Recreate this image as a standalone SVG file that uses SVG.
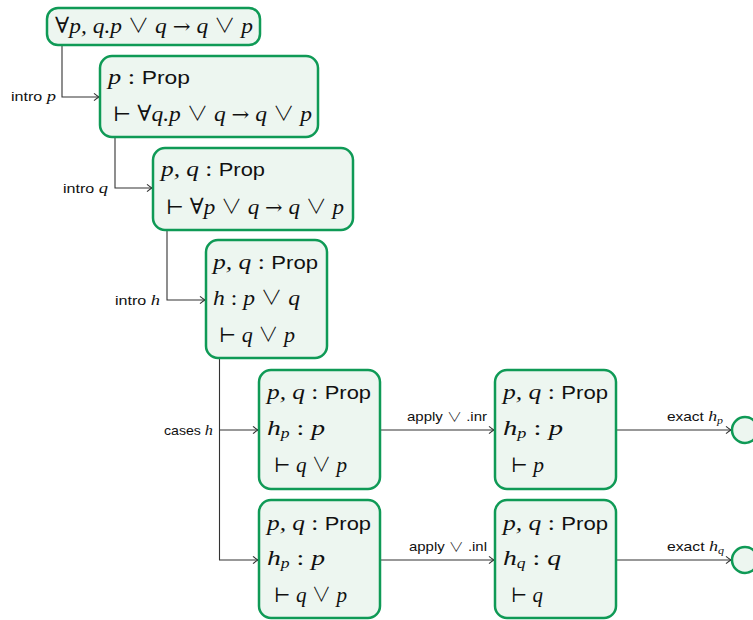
<svg xmlns="http://www.w3.org/2000/svg" width="753" height="620" viewBox="0 0 753 620">
<style>
.box{fill:#edf6f0;stroke:#0f9a56;stroke-width:2.5}
.m{font-family:"Liberation Serif","DejaVu Serif",serif;font-style:italic;font-size:22px;fill:#111}
.u{font-style:normal;font-family:"Liberation Serif","DejaVu Serif",serif}
.a{font-style:normal;font-family:"DejaVu Serif",serif;font-size:20px}
.v{font-style:normal;font-family:"Noto Sans CJK JP","DejaVu Sans",sans-serif;font-weight:300;font-size:20px}
.vl{font-style:normal;font-family:"Noto Sans CJK JP","DejaVu Sans",sans-serif;font-weight:300;font-size:13px}
.c{font-style:normal}
.t{font-family:"Liberation Sans","DejaVu Sans",sans-serif;font-style:normal;font-size:19px}
.l{font-family:"Liberation Sans","DejaVu Sans",sans-serif;font-size:13px;fill:#111}
.li{font-family:"Liberation Serif",serif;font-style:italic;font-size:15px}
.sub{font-size:14px}
.lsub{font-size:10px}
.wire{fill:none;stroke:#333;stroke-width:1.1;marker-end:url(#arr)}
</style>
<defs>
<marker id="arr" markerUnits="userSpaceOnUse" viewBox="-6 -5 7 10" refX="0" refY="0" markerWidth="7" markerHeight="10" orient="auto">
<path d="M-5,-3.6 Q-1.5,-0.8 0,0 Q-1.5,0.8 -5,3.6" fill="none" stroke="#333" stroke-width="1.1"/>
</marker>
</defs>
<g id="connectors">
<path class="wire" d="M62,45 V97 H99"/>
<path class="wire" d="M115,137 V188 H152"/>
<path class="wire" d="M167,230 V300 H205"/>
<path class="wire" d="M219.5,358 V560 H258"/>
<path class="wire" d="M219.5,430 H258"/>
<path class="wire" d="M380,430 H494"/>
<path class="wire" d="M380,560 H494"/>
<path class="wire" d="M616,430 H731"/>
<path class="wire" d="M616,560 H731"/>
<text class="l" x="11" y="101" textLength="45" lengthAdjust="spacingAndGlyphs">intro <tspan class="li">p</tspan></text>
<text class="l" x="63" y="193" textLength="45" lengthAdjust="spacingAndGlyphs">intro <tspan class="li">q</tspan></text>
<text class="l" x="115" y="305" textLength="45" lengthAdjust="spacingAndGlyphs">intro <tspan class="li">h</tspan></text>
<text class="l" x="164" y="435" textLength="49" lengthAdjust="spacingAndGlyphs">cases <tspan class="li">h</tspan></text>
<text class="l" x="407" y="421" textLength="80" lengthAdjust="spacingAndGlyphs">apply <tspan class="vl">∨</tspan> .inr</text>
<text class="l" x="409" y="551" textLength="78" lengthAdjust="spacingAndGlyphs">apply <tspan class="vl">∨</tspan> .inl</text>
<text class="l" x="667" y="421" textLength="56" lengthAdjust="spacingAndGlyphs">exact <tspan class="li">h</tspan><tspan class="li lsub" dy="3">p</tspan></text>
<text class="l" x="667" y="551" textLength="57" lengthAdjust="spacingAndGlyphs">exact <tspan class="li">h</tspan><tspan class="li lsub" dy="3">q</tspan></text>
</g>
<g id="n1">
<rect class="box" x="47" y="8" width="213" height="37" rx="11"/>
<text class="m" x="55" y="33" textLength="198" lengthAdjust="spacingAndGlyphs"><tspan class="u">∀</tspan>p, q.p <tspan class="v">∨</tspan> q <tspan class="a">→</tspan> q <tspan class="v">∨</tspan> p</text>
</g>
<g id="n2">
<rect class="box" x="100" y="56" width="218" height="81" rx="12"/>
<text class="m" x="108" y="84" textLength="82" lengthAdjust="spacingAndGlyphs">p <tspan class="c">:</tspan> <tspan class="t">Prop</tspan></text>
<text class="m" x="113" y="121" textLength="199" lengthAdjust="spacingAndGlyphs"><tspan class="a">⊢</tspan> <tspan class="u">∀</tspan>q.p <tspan class="v">∨</tspan> q <tspan class="a">→</tspan> q <tspan class="v">∨</tspan> p</text>
</g>
<g id="n3">
<rect class="box" x="153" y="148" width="200" height="82" rx="12"/>
<text class="m" x="161" y="176" textLength="104" lengthAdjust="spacingAndGlyphs">p, q <tspan class="c">:</tspan> <tspan class="t">Prop</tspan></text>
<text class="m" x="166" y="214" textLength="178" lengthAdjust="spacingAndGlyphs"><tspan class="a">⊢</tspan> <tspan class="u">∀</tspan>p <tspan class="v">∨</tspan> q <tspan class="a">→</tspan> q <tspan class="v">∨</tspan> p</text>
</g>
<g id="n4">
<rect class="box" x="206" y="240" width="121" height="118" rx="12"/>
<text class="m" x="213" y="269" textLength="105" lengthAdjust="spacingAndGlyphs">p, q <tspan class="c">:</tspan> <tspan class="t">Prop</tspan></text>
<text class="m" x="213" y="305" textLength="87" lengthAdjust="spacingAndGlyphs">h <tspan class="c">:</tspan> p <tspan class="v">∨</tspan> q</text>
<text class="m" x="219" y="342" textLength="76" lengthAdjust="spacingAndGlyphs"><tspan class="a">⊢</tspan> q <tspan class="v">∨</tspan> p</text>
</g>
<g id="n5">
<rect class="box" x="259" y="370" width="121" height="119" rx="12"/>
<text class="m" x="267" y="399" textLength="104" lengthAdjust="spacingAndGlyphs">p, q <tspan class="c">:</tspan> <tspan class="t">Prop</tspan></text>
<text class="m" x="267" y="435" textLength="58" lengthAdjust="spacingAndGlyphs">h<tspan class="sub" dy="3">p</tspan><tspan dy="-3"> </tspan><tspan class="c">:</tspan> p</text>
<text class="m" x="274" y="472" textLength="73" lengthAdjust="spacingAndGlyphs"><tspan class="a">⊢</tspan> q <tspan class="v">∨</tspan> p</text>
</g>
<g id="n6">
<rect class="box" x="259" y="500" width="121" height="118" rx="12"/>
<text class="m" x="267" y="530" textLength="104" lengthAdjust="spacingAndGlyphs">p, q <tspan class="c">:</tspan> <tspan class="t">Prop</tspan></text>
<text class="m" x="267" y="565" textLength="58" lengthAdjust="spacingAndGlyphs">h<tspan class="sub" dy="3">p</tspan><tspan dy="-3"> </tspan><tspan class="c">:</tspan> p</text>
<text class="m" x="274" y="602" textLength="73" lengthAdjust="spacingAndGlyphs"><tspan class="a">⊢</tspan> q <tspan class="v">∨</tspan> p</text>
</g>
<g id="n7">
<rect class="box" x="495" y="370" width="121" height="119" rx="12"/>
<text class="m" x="503" y="399" textLength="105" lengthAdjust="spacingAndGlyphs">p, q <tspan class="c">:</tspan> <tspan class="t">Prop</tspan></text>
<text class="m" x="503" y="435" textLength="60" lengthAdjust="spacingAndGlyphs">h<tspan class="sub" dy="3">p</tspan><tspan dy="-3"> </tspan><tspan class="c">:</tspan> p</text>
<text class="m" x="511" y="472" textLength="33" lengthAdjust="spacingAndGlyphs"><tspan class="a">⊢</tspan> p</text>
</g>
<g id="n8">
<rect class="box" x="495" y="500" width="121" height="118" rx="12"/>
<text class="m" x="503" y="530" textLength="105" lengthAdjust="spacingAndGlyphs">p, q <tspan class="c">:</tspan> <tspan class="t">Prop</tspan></text>
<text class="m" x="503" y="565" textLength="58" lengthAdjust="spacingAndGlyphs">h<tspan class="sub" dy="3">q</tspan><tspan dy="-3"> </tspan><tspan class="c">:</tspan> q</text>
<text class="m" x="511" y="602" textLength="32" lengthAdjust="spacingAndGlyphs"><tspan class="a">⊢</tspan> q</text>
</g>
<g id="goal1"><circle class="box" cx="745" cy="430" r="13"/></g>
<g id="goal2"><circle class="box" cx="745" cy="560" r="13"/></g>
</svg>
